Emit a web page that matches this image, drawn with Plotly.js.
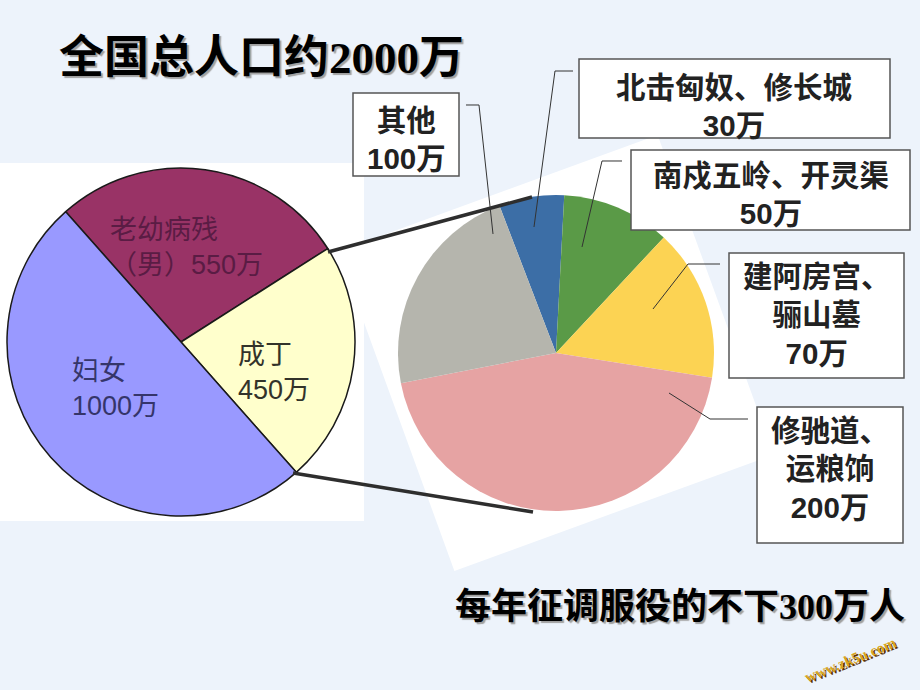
<!DOCTYPE html>
<html>
<head>
<meta charset="utf-8">
<script src="https://cdn.plot.ly/plotly-3.0.1.min.js"></script>
<style>
  html, body { margin: 0; padding: 0; background: #edf3fb; }
  #chart { width: 920px; height: 690px; }
</style>
</head>
<body>
<div id="chart"></div>
<script>
// ---- data ----
const totalLabels = ['老幼病残（男）', '成丁', '妇女'];
const totalValues = [550, 450, 1000];
const totalColors = ['#993366', '#ffffcc', '#9999ff'];
const totalTextLabels = ['老幼病残<br>（男）', '成丁<br>', '妇女<br>'];
const totalTextColors = ['#5a1c44', '#33332a', '#35356a'];

const laborLabels = ['北击匈奴、修长城', '南戍五岭、开灵渠', '建阿房宫、骊山墓', '修驰道、运粮饷', '其他'];
const laborValues = [30, 50, 70, 200, 100];
const laborColors = ['#3c6ea6', '#5a9a47', '#fcd353', '#e6a3a3', '#b5b5ad'];
const laborTextLabels = ['北击匈奴、修长城<br>', '南戍五岭、开灵渠<br>', '建阿房宫、<br>骊山墓<br>', '修驰道、<br>运粮饷<br>', '其他<br>'];

const unit = '万';
const titleText = '全国总人口约2000万';
const footText = '每年征调服役的不下300万人';

// ---- layout helpers (pixel -> paper) ----
const W = 920, H = 690;
const px = x => x / W;
const py = y => 1 - y / H;

function pieDomain(cx, cy, r) {
  return { x: [px(cx - r), px(cx + r)], y: [py(cy + r), py(cy - r)] };
}

const traces = [
  {
    type: 'pie', labels: totalLabels, values: totalValues, sort: false,
    direction: 'clockwise', rotation: -41.5,
    marker: { colors: totalColors, line: { color: '#1a1a1a', width: 1.5 } },
    textinfo: 'none', hoverinfo: 'none', showlegend: false,
    domain: pieDomain(181, 342, 174)
  },
  {
    type: 'pie', labels: laborLabels, values: laborValues, sort: false,
    direction: 'clockwise', rotation: -21,
    marker: { colors: laborColors, line: { width: 0 } },
    textinfo: 'none', hoverinfo: 'none', showlegend: false,
    domain: pieDomain(556, 353, 158)
  }
];

// background shapes
function rotSquare(cx, cy, h, deg) {
  const a = deg * Math.PI / 180, c = Math.cos(a), s = Math.sin(a);
  const pts = [[-h, -h], [h, -h], [h, h], [-h, h]].map(([u, v]) =>
    [cx + u * c - v * s, cy + u * s + v * c]);
  return 'M ' + pts.map(p => px(p[0]).toFixed(5) + ',' + py(p[1]).toFixed(5)).join(' L ') + ' Z';
}
function poly(points) {
  return 'M ' + points.map(p => px(p[0]).toFixed(5) + ',' + py(p[1]).toFixed(5)).join(' L ');
}
function rect(x0, y0, x1, y1, extra) {
  return Object.assign({ type: 'rect', xref: 'paper', yref: 'paper',
    x0: px(x0), x1: px(x1), y0: py(y1), y1: py(y0) }, extra);
}

const shapes = [
  rect(0, 163, 364, 521, { layer: 'below', fillcolor: '#ffffff', line: { width: 0 } }),
  { type: 'path', xref: 'paper', yref: 'paper', layer: 'below', path: rotSquare(556, 353, 170, -20),
    fillcolor: '#ffffff', line: { width: 0 } },
  // connectors
  { type: 'line', xref: 'paper', yref: 'paper', layer: 'above',
    x0: px(328), y0: py(252), x1: px(532), y1: py(197), line: { color: '#2e2e2e', width: 3.5 } },
  { type: 'line', xref: 'paper', yref: 'paper', layer: 'above',
    x0: px(293), y0: py(473), x1: px(533), y1: py(512), line: { color: '#2e2e2e', width: 3.5 } },
];

// callout boxes and leaders
const boxes = [
  { box: [579, 59, 890, 138], text: [734, 106], leader: [[573, 71], [555, 71], [534, 227]] },
  { box: [631, 150, 910, 230], text: [771, 195], leader: [[622, 161], [602, 161], [582, 247]] },
  { box: [729, 253, 904, 378], text: [817, 315], leader: [[720, 264], [688, 264], [653, 309]] },
  { box: [757, 407, 903, 543], text: [830, 469], leader: [[748, 419], [710, 419], [669, 393]] },
  { box: [353, 93, 459, 176], text: [406, 139], leader: [[466, 105], [479, 105], [493, 234]] }
];
boxes.forEach(b => {
  shapes.push(rect(b.box[0], b.box[1], b.box[2], b.box[3],
    { layer: 'above', fillcolor: '#ffffff', line: { color: '#555555', width: 1.5 } }));
  shapes.push({ type: 'path', xref: 'paper', yref: 'paper', layer: 'above',
    path: poly(b.leader), line: { color: '#333333', width: 1 } });
});

const annotations = [];
const cjk = '"Liberation Sans", "Noto Sans CJK SC", sans-serif';
const serif = '"Liberation Serif", "Noto Sans CJK SC", serif';

// left pie labels
const leftPos = [[108, 247], [236, 372], [70, 388]];
totalValues.forEach((v, i) => {
  annotations.push({ xref: 'paper', yref: 'paper', x: px(leftPos[i][0]), y: py(leftPos[i][1]),
    xanchor: 'left', yanchor: 'middle', align: 'left', showarrow: false,
    text: totalTextLabels[i] + v + unit,
    font: { family: cjk, size: 27, color: totalTextColors[i] } });
});

// right pie callout labels
laborValues.forEach((v, i) => {
  const b = boxes[i];
  annotations.push({ xref: 'paper', yref: 'paper', x: px(b.text[0]), y: py(b.text[1]),
    xanchor: 'center', yanchor: 'middle', align: 'center', showarrow: false,
    text: laborTextLabels[i] + v + unit,
    font: { family: cjk, size: 29.5, color: '#222222', weight: 'bold' } });
});

annotations.push({ xref: 'paper', yref: 'paper', x: px(57), y: py(58), xanchor: 'left', yanchor: 'middle',
  showarrow: false, text: titleText,
  font: { family: serif, size: 45, color: '#000000', weight: 'bold', shadow: '2px 2px 1px #a0a0a0' } });
annotations.push({ xref: 'paper', yref: 'paper', x: px(680), y: py(607), xanchor: 'center', yanchor: 'middle',
  showarrow: false, text: footText,
  font: { family: serif, size: 36, color: '#000000', weight: 'bold', shadow: '2px 2px 1px #a0a0a0' } });
annotations.push({ xref: 'paper', yref: 'paper', x: px(850), y: py(660), xanchor: 'center', yanchor: 'middle',
  showarrow: false, text: 'www.zk5u.com', textangle: -22,
  font: { family: serif, size: 15, color: '#d9a520', weight: 'bold', shadow: '1px 2px 0px #5a3000' } });

const layout = {
  width: W, height: H,
  margin: { l: 0, r: 0, t: 0, b: 0 },
  paper_bgcolor: '#edf3fb', plot_bgcolor: '#edf3fb',
  showlegend: false,
  shapes: shapes, annotations: annotations
};

Plotly.newPlot('chart', traces, layout, { staticPlot: true, displayModeBar: false });
</script>
</body>
</html>
